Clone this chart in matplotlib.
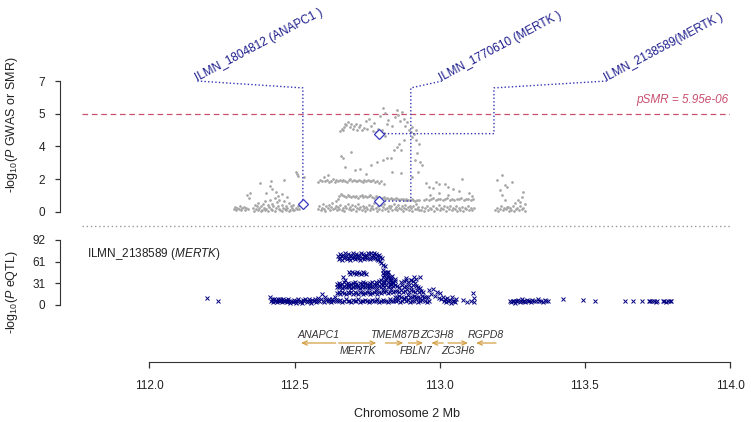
import matplotlib.pyplot as plt
import numpy as np

plt.rcParams["font.family"] = ["Liberation Sans", "DejaVu Sans"]
plt.rcParams["mathtext.fontset"] = "custom"
plt.rcParams["mathtext.rm"] = "Liberation Sans"
plt.rcParams["mathtext.it"] = "Liberation Sans:italic"

# ---------------- data (position in Mb, -log10 P) ----------------
# GWAS points, grouped by the visible clusters
gwas_a = [(112.288, 0.15), (112.292, 0.25), (112.296, 0.10), (112.300, 0.20), (112.305, 0.12),
          (112.309, 0.30), (112.313, 0.08), (112.318, 0.18), (112.322, 0.25), (112.327, 0.10),
          (112.331, 0.22), (112.336, 0.14), (112.335, 0.90), (112.342, 0.75), (112.345, 1.00),
          (112.355, 0.20), (112.360, 0.35), (112.364, 0.12), (112.368, 0.28), (112.372, 0.45),
          (112.376, 0.18), (112.380, 0.30), (112.384, 0.10), (112.388, 0.40), (112.392, 0.22),
          (112.396, 0.55), (112.400, 0.15), (112.404, 0.35), (112.408, 0.25), (112.412, 0.60),
          (112.416, 0.12), (112.420, 0.42), (112.424, 0.30), (112.428, 0.75), (112.432, 0.18),
          (112.436, 0.50), (112.440, 0.28), (112.444, 0.65), (112.448, 0.10), (112.452, 0.38),
          (112.456, 0.22), (112.460, 0.55), (112.464, 0.15), (112.468, 0.32), (112.472, 0.20),
          (112.476, 0.45), (112.480, 0.10), (112.484, 0.28), (112.488, 0.18), (112.492, 0.35),
          (112.496, 0.08), (112.500, 0.22), (112.504, 0.12), (112.508, 0.30), (112.512, 0.15),
          (112.358, 0.05), (112.370, 0.08), (112.382, 0.05), (112.394, 0.10), (112.406, 0.05),
          (112.418, 0.08), (112.430, 0.06), (112.442, 0.12), (112.454, 0.05), (112.466, 0.08),
          (112.478, 0.05), (112.490, 0.10),
          (112.378, 1.55), (112.398, 1.00), (112.414, 1.40), (112.415, 1.65), (112.420, 1.20),
          (112.432, 1.05), (112.440, 0.85), (112.452, 0.95), (112.462, 1.70), (112.470, 0.80),
          (112.502, 2.10), (112.506, 2.00), (112.510, 1.90), (112.530, 1.85)]

gwas_b_base = [(112.578, 0.12), (112.582, 0.30), (112.586, 0.08), (112.590, 0.22), (112.594, 0.40),
               (112.598, 0.15), (112.602, 0.05), (112.606, 0.28), (112.610, 0.18), (112.614, 0.35),
               (112.618, 0.10), (112.622, 0.25), (112.626, 0.45), (112.630, 0.12), (112.634, 0.20),
               (112.638, 0.32), (112.642, 0.08), (112.646, 0.26), (112.650, 0.15), (112.654, 0.38),
               (112.658, 0.10), (112.662, 0.22), (112.666, 0.05), (112.670, 0.30), (112.674, 0.18),
               (112.678, 0.42), (112.682, 0.12), (112.686, 0.25), (112.690, 0.08), (112.694, 0.35),
               (112.698, 0.15), (112.702, 0.28), (112.706, 0.06), (112.710, 0.20), (112.714, 0.40),
               (112.718, 0.12), (112.722, 0.26), (112.726, 0.10), (112.730, 0.33), (112.734, 0.18),
               (112.738, 0.05), (112.742, 0.24), (112.746, 0.14), (112.750, 0.36), (112.754, 0.08),
               (112.758, 0.22), (112.762, 0.30), (112.766, 0.12), (112.770, 0.45), (112.774, 0.18),
               (112.778, 0.06), (112.782, 0.28), (112.786, 0.15), (112.792, 0.35), (112.796, 0.10),
               (112.800, 0.25), (112.804, 0.40), (112.808, 0.12), (112.812, 0.22), (112.816, 0.05),
               (112.820, 0.32), (112.824, 0.18), (112.828, 0.28), (112.832, 0.10), (112.836, 0.42),
               (112.840, 0.15), (112.844, 0.25), (112.848, 0.08), (112.852, 0.35), (112.856, 0.20),
               (112.860, 0.12), (112.864, 0.30), (112.868, 0.06), (112.872, 0.22), (112.876, 0.38),
               (112.880, 0.14), (112.884, 0.26), (112.888, 0.10), (112.892, 0.33), (112.896, 0.18),
               (112.900, 0.05), (112.904, 0.28), (112.908, 0.15), (112.912, 0.40), (112.916, 0.12),
               (112.920, 0.24), (112.924, 0.08)]

gwas_b_band1 = [(112.640, 0.55), (112.645, 0.70), (112.650, 0.85), (112.655, 0.95), (112.660, 0.90),
                (112.666, 0.85), (112.672, 0.80), (112.678, 0.88), (112.684, 0.82), (112.690, 0.78),
                (112.696, 0.86), (112.702, 0.80), (112.708, 0.84), (112.714, 0.76), (112.720, 0.82),
                (112.726, 0.88), (112.732, 0.80), (112.738, 0.85), (112.744, 0.78), (112.750, 0.83),
                (112.756, 0.87), (112.762, 0.80), (112.768, 0.76), (112.774, 0.84), (112.780, 0.80),
                (112.796, 0.72), (112.802, 0.78), (112.808, 0.70), (112.814, 0.75), (112.820, 0.68),
                (112.826, 0.74), (112.832, 0.70), (112.838, 0.66), (112.844, 0.72), (112.850, 0.68),
                (112.856, 0.64), (112.862, 0.70), (112.868, 0.66), (112.874, 0.62), (112.880, 0.68),
                (112.886, 0.64), (112.892, 0.60), (112.898, 0.66), (112.904, 0.62), (112.910, 0.58),
                (112.916, 0.64), (112.922, 0.60)]

gwas_b_band2 = [(112.578, 1.60), (112.584, 1.72), (112.590, 1.65), (112.596, 1.85), (112.602, 1.62),
                (112.608, 1.70), (112.612, 1.95), (112.616, 1.58), (112.622, 1.66), (112.628, 1.74),
                (112.634, 1.60), (112.640, 1.68), (112.646, 1.64), (112.652, 1.72), (112.658, 1.62),
                (112.664, 1.70), (112.670, 1.66), (112.676, 1.60), (112.682, 1.68), (112.688, 1.74),
                (112.694, 1.63), (112.700, 1.70), (112.706, 1.66), (112.712, 1.62), (112.718, 1.72),
                (112.724, 1.65), (112.730, 1.60), (112.736, 1.68), (112.742, 1.64), (112.748, 1.70),
                (112.754, 1.62), (112.760, 1.67), (112.766, 1.72), (112.772, 1.60), (112.778, 1.66),
                (112.786, 1.55), (112.794, 1.62), (112.802, 1.50)]

gwas_b_upper = [(112.654, 4.30), (112.658, 4.45), (112.662, 4.38), (112.666, 4.55), (112.670, 4.70),
                (112.674, 4.62), (112.680, 4.80), (112.686, 4.52), (112.690, 4.68), (112.696, 4.45),
                (112.700, 4.58), (112.706, 4.72), (112.712, 4.40), (112.716, 4.55), (112.722, 4.62),
                (112.728, 4.35), (112.734, 4.50), (112.740, 4.85), (112.746, 4.42), (112.752, 4.95),
                (112.758, 4.60), (112.764, 4.30), (112.770, 4.75), (112.776, 4.25), (112.782, 4.45),
                (112.796, 4.35), (112.802, 4.20), (112.808, 4.05), (112.790, 5.10), (112.800, 5.55),
                (112.806, 5.30), (112.812, 4.70), (112.818, 4.90), (112.832, 4.60), (112.840, 5.05),
                (112.846, 5.45), (112.852, 5.20), (112.858, 4.85), (112.864, 5.35), (112.870, 4.95),
                (112.876, 4.60), (112.882, 4.80), (112.888, 4.40), (112.894, 4.25), (112.900, 4.55),
                (112.906, 4.15), (112.912, 4.35)]

gwas_b_mid = [(112.656, 3.00), (112.662, 2.85), (112.702, 2.25), (112.780, 2.65), (112.798, 2.75),
              (112.813, 2.90), (112.826, 2.85), (112.836, 3.30), (112.846, 3.45), (112.853, 3.65),
              (112.870, 3.85), (112.860, 3.30), (112.900, 4.00), (112.912, 3.85), (112.922, 3.65),
              (112.915, 3.15), (112.910, 2.75), (112.928, 2.65), (112.920, 2.10), (112.932, 2.50),
              (112.900, 1.85), (112.946, 1.55), (112.956, 1.30), (112.860, 2.05), (112.830, 2.10),
              (112.720, 2.30), (112.740, 2.00), (112.760, 2.50), (112.690, 3.20), (112.670, 2.40)]

gwas_c = [(112.930, 0.10), (112.935, 0.25), (112.940, 0.05), (112.945, 0.18), (112.950, 0.30),
          (112.955, 0.08), (112.960, 0.20), (112.965, 0.12), (112.970, 0.28), (112.975, 0.05),
          (112.980, 0.22), (112.985, 0.15), (112.990, 0.35), (112.995, 0.08), (113.000, 0.20),
          (113.005, 0.12), (113.010, 0.30), (113.015, 0.06), (113.020, 0.24), (113.025, 0.14),
          (113.030, 0.32), (113.035, 0.08), (113.040, 0.20), (113.045, 0.12), (113.050, 0.28),
          (113.055, 0.05), (113.060, 0.18), (113.065, 0.10), (113.070, 0.25), (113.075, 0.06),
          (113.080, 0.20), (113.085, 0.12), (113.090, 0.30), (113.095, 0.08), (113.100, 0.18),
          (113.105, 0.10), (113.110, 0.22),
          (112.940, 0.65), (112.948, 0.70), (112.956, 0.62), (112.964, 0.68), (112.972, 0.72),
          (112.980, 0.64), (112.988, 0.70), (112.996, 0.66), (113.004, 0.60), (113.012, 0.68),
          (113.020, 0.72), (113.028, 0.64), (113.036, 0.70), (113.044, 0.62), (113.052, 0.68),
          (113.060, 0.66), (113.068, 0.72), (113.076, 0.60), (113.084, 0.66), (113.092, 0.70),
          (113.100, 0.64), (113.108, 0.68),
          (112.980, 1.60), (112.990, 1.50), (113.013, 1.50), (113.023, 1.30), (113.070, 1.75),
          (112.970, 1.25), (112.990, 1.00), (113.023, 0.90), (112.962, 0.90), (113.060, 1.10),
          (113.040, 1.20), (113.095, 1.00), (113.105, 0.85)]

gwas_d = [(113.185, 0.10), (113.190, 0.22), (113.195, 0.05), (113.200, 0.15), (113.205, 0.30),
          (113.210, 0.08), (113.215, 0.20), (113.220, 0.12), (113.225, 0.26), (113.230, 0.06),
          (113.235, 0.18), (113.240, 0.10), (113.245, 0.28), (113.250, 0.05), (113.255, 0.16),
          (113.260, 0.22), (113.265, 0.08), (113.270, 0.30), (113.275, 0.12), (113.280, 0.20),
          (113.285, 0.06),
          (113.207, 1.95), (113.190, 1.70), (113.218, 1.45), (113.242, 1.60), (113.225, 1.30),
          (113.200, 1.15), (113.207, 0.90), (113.279, 1.05), (113.276, 0.80), (113.262, 0.60),
          (113.218, 0.60), (113.252, 0.45), (113.228, 0.25), (113.268, 0.50), (113.285, 0.40)]

# eQTL points for ILMN_2138589 (MERTK)
eqtl_left = [(112.197, 10), (112.234, 5)]
eqtl_low = [(112.412, 11), (112.415, 6), (112.418, 8), (112.421, 4), (112.424, 7), (112.427, 9),
            (112.430, 5), (112.433, 7), (112.436, 4), (112.439, 8), (112.442, 6), (112.445, 9),
            (112.448, 5), (112.451, 7), (112.454, 4), (112.457, 8), (112.460, 6), (112.463, 5),
            (112.466, 7), (112.469, 4), (112.472, 6), (112.475, 8), (112.478, 5), (112.482, 3),
            (112.486, 6), (112.490, 4), (112.494, 7), (112.498, 5), (112.502, 3), (112.506, 6),
            (112.510, 8), (112.514, 4), (112.518, 6), (112.522, 3), (112.526, 7), (112.530, 5),
            (112.534, 9), (112.538, 4), (112.542, 6), (112.546, 8), (112.550, 5), (112.554, 3),
            (112.558, 7), (112.562, 5), (112.566, 9), (112.570, 4), (112.574, 6), (112.578, 10),
            (112.582, 5), (112.586, 8), (112.590, 16), (112.594, 6), (112.598, 4), (112.602, 12),
            (112.606, 7), (112.610, 5), (112.614, 9), (112.618, 6), (112.622, 4), (112.626, 8),
            (112.630, 5), (112.634, 11), (112.638, 7)]
eqtl_top_x = [112.646, 112.652, 112.657, 112.663, 112.668, 112.674, 112.680, 112.685, 112.691,
              112.696, 112.702, 112.708, 112.713, 112.719, 112.724, 112.730, 112.736, 112.741,
              112.747, 112.752, 112.758, 112.764, 112.769, 112.775, 112.780, 112.786, 112.791,
              112.797,
              112.648, 112.654, 112.660, 112.666, 112.671, 112.677, 112.683, 112.688, 112.694,
              112.700, 112.705, 112.711, 112.716, 112.722, 112.727, 112.733, 112.739, 112.744,
              112.750, 112.755, 112.761, 112.766, 112.772, 112.778, 112.783, 112.789]
eqtl_top_y = [70, 72, 69, 71, 73, 70, 72, 71, 69, 73, 70, 72, 71, 70, 73, 72, 70, 71, 73, 72, 74,
              71, 73, 72, 70, 71, 68, 66,
              65, 67, 64, 66, 68, 65, 67, 64, 66, 68, 65, 67, 66, 64, 67, 65, 68, 66, 67, 65, 68,
              66, 67, 65, 64, 62]
eqtl_mid = [(112.662, 40), (112.670, 36), (112.682, 46), (112.688, 44), (112.694, 46), (112.700, 45),
            (112.706, 44), (112.712, 46), (112.718, 45), (112.724, 44), (112.730, 46), (112.736, 45),
            (112.742, 44), (112.794, 60), (112.800, 57), (112.805, 55), (112.798, 50), (112.808, 47),
            (112.812, 44), (112.803, 42), (112.816, 40), (112.822, 38), (112.818, 46), (112.826, 36),
            (112.830, 41), (112.792, 36), (112.798, 40), (112.804, 34), (112.810, 38), (112.816, 42),
            (112.822, 35), (112.828, 39), (112.834, 33), (112.840, 37), (112.800, 45), (112.812, 47)]
eqtl_rows_x = [112.642, 112.648, 112.654, 112.660, 112.666, 112.672, 112.678, 112.684, 112.690,
               112.696, 112.702, 112.708, 112.714, 112.720, 112.726, 112.732, 112.738, 112.744,
               112.750, 112.756, 112.762, 112.768, 112.774, 112.780, 112.786, 112.792, 112.798,
               112.804, 112.810, 112.816, 112.822, 112.828, 112.834, 112.840]
eqtl_row30 = [30, 31, 29, 30, 32, 30, 31, 29, 30, 31, 32, 30, 29, 31, 30, 32, 31, 30, 29, 31, 33,
              30, 32, 31, 34, 30, 33, 31, 35, 32, 30, 33, 31, 34]
eqtl_row26 = [26, 25, 27, 24, 26, 25, 27, 26, 24, 25, 27, 26, 25, 24, 26, 27, 25, 26, 24, 27, 25,
              26, 28, 24, 27, 25, 29, 26, 28, 25, 27, 30, 27, 29]
eqtl_row17 = [17, 18, 16, 19, 17, 15, 18, 17, 19, 16, 18, 17, 15, 19, 18, 16, 17, 19, 18, 16, 17,
              18, 20, 16, 19, 17, 21, 18, 20, 17, 19, 22, 18, 20]
eqtl_row5 = [6, 5, 7, 4, 6, 8, 5, 6, 4, 7, 5, 6, 8, 4, 6, 5, 7, 6, 4, 5, 7, 6, 5, 8, 4, 6, 7, 5,
             6, 4, 8, 5, 6, 7]
eqtl_mound = [(112.844, 5), (112.851, 7), (112.858, 4), (112.865, 6), (112.872, 8), (112.879, 5),
              (112.886, 7), (112.893, 4), (112.900, 6), (112.907, 5), (112.914, 8), (112.921, 4),
              (112.928, 6), (112.935, 7), (112.942, 5), (112.949, 4), (112.956, 6),
              (112.842, 12), (112.849, 11), (112.856, 13), (112.863, 12), (112.870, 10),
              (112.877, 12), (112.884, 14), (112.891, 11), (112.898, 12), (112.905, 13),
              (112.912, 11), (112.919, 12), (112.926, 10), (112.933, 13), (112.940, 12),
              (112.947, 11), (112.954, 12),
              (112.846, 20), (112.853, 19), (112.860, 21), (112.867, 18), (112.874, 20),
              (112.881, 22), (112.888, 19), (112.895, 21), (112.902, 20), (112.909, 18),
              (112.916, 21), (112.923, 19), (112.930, 20), (112.937, 18),
              (112.848, 27), (112.856, 26), (112.864, 28), (112.872, 25), (112.880, 27),
              (112.888, 29), (112.896, 26), (112.904, 28), (112.912, 27), (112.920, 25),
              (112.928, 24),
              (112.862, 32), (112.870, 34), (112.878, 35), (112.886, 33), (112.894, 36),
              (112.902, 34), (112.910, 31),
              (112.878, 38), (112.905, 39), (112.926, 40), (112.913, 37), (112.895, 36)]
eqtl_tail = [(112.958, 21), (112.972, 22), (112.985, 18), (112.995, 17), (112.965, 15),
             (112.978, 13), (112.990, 10), (113.000, 9), (113.005, 12), (113.012, 8),
             (113.020, 10), (113.028, 7), (113.036, 11), (113.044, 6), (113.050, 9),
             (113.008, 5), (113.016, 4), (113.024, 6), (113.032, 3), (113.040, 5), (113.048, 4),
             (113.073, 7), (113.088, 4), (113.100, 6), (113.108, 17), (113.110, 4), (113.112, 10)]
eqtl_right = [(113.236, 5), (113.240, 4), (113.244, 6), (113.248, 5), (113.252, 3), (113.256, 6),
              (113.260, 5), (113.264, 7), (113.268, 4), (113.272, 6), (113.276, 8), (113.280, 5),
              (113.284, 6), (113.288, 4), (113.292, 7), (113.296, 5), (113.300, 6), (113.306, 4),
              (113.312, 7), (113.318, 5), (113.324, 6), (113.330, 8), (113.336, 5), (113.342, 6),
              (113.348, 4), (113.354, 7), (113.360, 5), (113.366, 6),
              (113.417, 9), (113.485, 7), (113.527, 6), (113.630, 5), (113.657, 6), (113.688, 6),
              (113.710, 6), (113.716, 5), (113.722, 6), (113.728, 5), (113.734, 4), (113.740, 6),
              (113.758, 5), (113.764, 6), (113.770, 4), (113.776, 6), (113.782, 5), (113.788, 6)]

# SMR probes
probe_ids = ["ILMN_1804812", "ILMN_1770610", "ILMN_2138589"]
probe_genes = ["ANAPC1", "MERTK", "MERTK"]
probe_pos = [112.525, 112.787, 112.787]
probe_smr = [0.41, 0.57, 4.18]
label_x = [112.163, 113.002, 113.567]
elbow_x = [112.525, 112.895, 113.180]
p_smr_threshold = 5.95e-06

# genes (start, end, strand)
gene_names = ["ANAPC1", "MERTK", "TMEM87B", "FBLN7", "ZC3H8", "ZC3H6", "RGPD8"]
gene_start = [112.522, 112.652, 112.813, 112.892, 112.971, 113.029, 113.125]
gene_end = [112.642, 112.782, 112.875, 112.943, 113.012, 113.098, 113.194]
gene_strand = ["-", "+", "+", "+", "-", "+", "-"]

# ---------------- layout helpers (pixel boxes) ----------------
W, H = 751, 422


def px_box(left, top, right, bottom):
    return [left / W, 1 - bottom / H, (right - left) / W, (bottom - top) / H]


XLIM = (111.768, 113.989)
NAVY = "#1c1c8c"
LINE_BLUE = "#3434b4"
AXIS_COL = "#333333"

fig = plt.figure(figsize=(W / 100, H / 100), dpi=100)
ax_top = fig.add_axes(px_box(82, 60, 730, 230))
ax_eq = fig.add_axes(px_box(82, 232, 730, 318))
ax_gene = fig.add_axes(px_box(82, 322, 730, 362))

for ax in (ax_top, ax_eq, ax_gene):
    ax.set_xlim(*XLIM)
    ax.patch.set_alpha(0)
    for s in ("top", "right", "left", "bottom"):
        ax.spines[s].set_visible(False)
    ax.tick_params(colors=AXIS_COL, labelcolor="#222222", labelsize=8.5)
    ax.set_xticks([])

ax_top.set_ylim(-0.980, 8.125)
ax_eq.set_ylim(-18.4, 103.3)
ax_gene.set_ylim(0, 1)
ax_gene.set_yticks([])

# left axes (R style, detached)
for ax, top_val, nt in ((ax_top, 7, 5), (ax_eq, 92, 4)):
    ax.spines["left"].set_visible(True)
    ax.spines["left"].set_position(("outward", 15.8))
    ax.spines["left"].set_bounds(0, top_val)
    ax.spines["left"].set_color(AXIS_COL)
    ticks = np.linspace(0, top_val, nt)
    ax.set_yticks(ticks)
    ax.set_yticklabels([str(int(round(t))) for t in ticks])
    ax.tick_params(axis="y", length=3.6, width=0.9, pad=7)

# ---------------- GWAS panel ----------------
gwas = np.array(gwas_a + gwas_b_base + gwas_b_band1 + gwas_b_band2 + gwas_b_upper
                + gwas_b_mid + gwas_c + gwas_d)
ax_top.scatter(gwas[:, 0], gwas[:, 1], s=3.8, color="#a6a6a6", linewidths=0, zorder=2)

thr = -np.log10(p_smr_threshold)
ax_top.axhline(thr, color="#c9506e", lw=0.9, ls=(0, (4.5, 3)), zorder=1)
ax_top.text(XLIM[1] - 0.006, thr + 0.42, f"pSMR = {p_smr_threshold:.2e}", color="#c9506e",
            fontsize=8.5, style="italic", ha="right", va="bottom")
ax_top.axhline(-0.766, color="#9a9a9a", lw=1.0, ls=(0, (1, 2)), zorder=1)

for pid, gene, px, py, lx, ex in zip(probe_ids, probe_genes, probe_pos, probe_smr,
                                     label_x, elbow_x):
    xs = [lx, ex, ex]
    ys = [7.0, 6.63, py]
    if ex != px:
        xs.append(px)
        ys.append(py)
    ax_top.plot(xs, ys, color=LINE_BLUE, lw=1.0, ls=(0, (1, 1.6)), clip_on=False, zorder=3)
    ax_top.plot(px, py, marker="D", ms=5.2, mfc="white", mec="#3a3ac0", mew=0.9, zorder=4)
    gap = " " if pid != "ILMN_2138589" else ""
    ax_top.text(lx, 7.0, f"{pid}{gap}({gene} )", color=NAVY, fontsize=8.5, rotation=28,
                rotation_mode="anchor", ha="left", va="baseline", clip_on=False)

# ---------------- eQTL panel ----------------
eq = np.array(eqtl_left + eqtl_low + eqtl_mid + eqtl_mound + eqtl_tail + eqtl_right, dtype=float)
eq_x = np.concatenate([eq[:, 0], eqtl_top_x, np.tile(eqtl_rows_x, 4)])
eq_y = np.concatenate([eq[:, 1], eqtl_top_y, eqtl_row30, eqtl_row26, eqtl_row17, eqtl_row5])
ax_eq.plot(eq_x, eq_y, ls="none", marker="x", ms=3.5, mew=0.7, color="#000080", zorder=2)
ax_eq.text(111.785, 72, r"ILMN_2138589 ($\it{MERTK}$)", fontsize=8.5, color="#222222",
           ha="left", va="center")

# ---------------- gene track + x axis ----------------
for i, (name, g0, g1, st) in enumerate(zip(gene_names, gene_start, gene_end, gene_strand)):
    a, b = (g0, g1) if st == "+" else (g1, g0)
    ax_gene.annotate("", xy=(b, 0.475), xytext=(a, 0.475),
                     arrowprops=dict(arrowstyle="->,head_length=0.35,head_width=0.15",
                                     color="#d4a045", lw=0.9, shrinkA=0, shrinkB=0))
    ly = 0.67 if i % 2 == 0 else 0.27
    ax_gene.text((g0 + g1) / 2, ly, name, fontsize=7.6, style="italic", color="#333333",
                 ha="center", va="center")

ax_gene.spines["bottom"].set_visible(True)
ax_gene.spines["bottom"].set_bounds(112, 114)
ax_gene.spines["bottom"].set_color(AXIS_COL)
xt = [112.0, 112.5, 113.0, 113.5, 114.0]
ax_gene.set_xticks(xt)
ax_gene.set_xticklabels([f"{v:.1f}" for v in xt])
ax_gene.tick_params(axis="x", length=4.3, width=0.9, pad=8.5)

fig.text(407 / W, 1 - 414 / H, "Chromosome 2 Mb", fontsize=9, ha="center", va="center",
         color="#222222")
fig.text(12 / W, 1 - 125 / H, r"-log$_{10}$($\it{P}$ GWAS or SMR)", fontsize=9, rotation=90,
         ha="center", va="center", color="#222222")
fig.text(12 / W, 1 - 292 / H, r"-log$_{10}$($\it{P}$ eQTL)", fontsize=9, rotation=90,
         ha="center", va="center", color="#222222")

fig.savefig("out.png", dpi=100)
